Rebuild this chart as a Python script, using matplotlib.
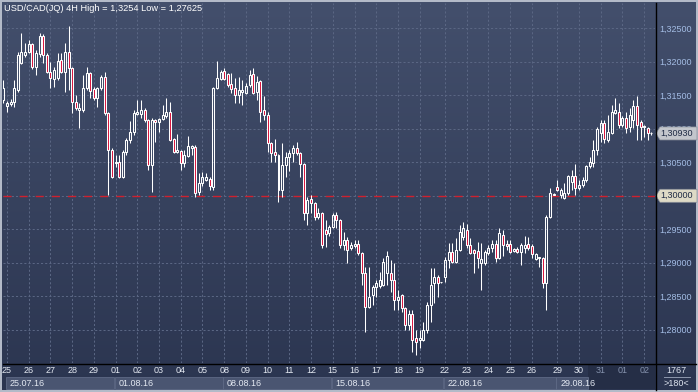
import numpy as np
import matplotlib
matplotlib.use('Agg')
import matplotlib.pyplot as plt
import matplotlib.transforms as mtransforms
from matplotlib.colors import LinearSegmentedColormap
from matplotlib.patches import Rectangle, Polygon
from matplotlib.lines import Line2D
from matplotlib.ticker import FuncFormatter

plt.rcParams['font.family'] = ['Liberation Sans', 'DejaVu Sans']
plt.rcParams['lines.scale_dashes'] = False

# USD/CAD 4H candles, last bar of 22.07.16 up to 02.09.16
opens = [
    1.3143, 1.3134, 1.3137, 1.3140, 1.3158, 1.3198, 1.3210, 1.3215, 1.3227, 1.3192,
    1.3212, 1.3238, 1.3210, 1.3185, 1.3174, 1.3176, 1.3203, 1.3185, 1.3215, 1.3191,
    1.3140, 1.3128, 1.3128, 1.3161, 1.3183, 1.3159, 1.3146, 1.3161, 1.3177, 1.3124,
    1.3068, 1.3049, 1.3050, 1.3028, 1.3065, 1.3083, 1.3095, 1.3122, 1.3122, 1.3128,
    1.3113, 1.3046, 1.3113, 1.3110, 1.3114, 1.3119, 1.3125, 1.3085, 1.3065, 1.3067,
    1.3049, 1.3059, 1.3071, 1.3073, 1.3006, 1.3019, 1.3024, 1.3025, 1.3013, 1.3161,
    1.3174, 1.3186, 1.3182, 1.3167, 1.3161, 1.3150, 1.3155, 1.3153, 1.3165, 1.3182,
    1.3155, 1.3171, 1.3128, 1.3121, 1.3079, 1.3065, 1.3061, 1.3009, 1.3046, 1.3058,
    1.3064, 1.3071, 1.3064, 1.3047, 1.2974, 1.2995, 1.2989, 1.2968, 1.2974, 1.2949,
    1.2944, 1.2953, 1.2971, 1.2964, 1.2927, 1.2934, 1.2922, 1.2925, 1.2928, 1.2914,
    1.2885, 1.2834, 1.2852, 1.2864, 1.2865, 1.2867, 1.2885, 1.2885, 1.2874, 1.2844,
    1.2852, 1.2832, 1.2807, 1.2823, 1.2788, 1.2785, 1.2785, 1.2800, 1.2837, 1.2870,
    1.2879, 1.2871, 1.2879, 1.2904, 1.2916, 1.2901, 1.2919, 1.2938, 1.2949, 1.2927,
    1.2919, 1.2917, 1.2900, 1.2900, 1.2914, 1.2922, 1.2928, 1.2907, 1.2941, 1.2928,
    1.2928, 1.2917, 1.2920, 1.2916, 1.2922, 1.2928, 1.2925, 1.2906, 1.2908, 1.2907,
    1.2870, 1.2968, 1.3001, 1.3013, 1.3001, 1.2997, 1.3004, 1.3021, 1.3030, 1.3012,
    1.3016, 1.3024, 1.3044, 1.3049, 1.3068, 1.3094, 1.3109, 1.3083, 1.3094, 1.3124,
    1.3125, 1.3106, 1.3116, 1.3103, 1.3113, 1.3134, 1.3110, 1.3103, 1.3101, 1.30935,
]
highs = [
    1.3173, 1.3141, 1.3144, 1.3173, 1.3215, 1.3243, 1.3228, 1.3233, 1.3228, 1.3218,
    1.3243, 1.3241, 1.3213, 1.3200, 1.3192, 1.3213, 1.3213, 1.3228, 1.3254, 1.3192,
    1.3150, 1.3138, 1.3180, 1.3192, 1.3185, 1.3162, 1.3162, 1.3180, 1.3185, 1.3125,
    1.3071, 1.3061, 1.3061, 1.3068, 1.3086, 1.3112, 1.3128, 1.3143, 1.3143, 1.3131,
    1.3114, 1.3116, 1.3114, 1.3116, 1.3135, 1.3146, 1.3140, 1.3086, 1.3092, 1.3068,
    1.3068, 1.3089, 1.3076, 1.3076, 1.3034, 1.3035, 1.3034, 1.3028, 1.3163, 1.3201,
    1.3188, 1.3191, 1.3183, 1.3183, 1.3176, 1.3177, 1.3173, 1.3168, 1.3188, 1.3191,
    1.3179, 1.3173, 1.3149, 1.3125, 1.3080, 1.3085, 1.3062, 1.3079, 1.3065, 1.3068,
    1.3076, 1.3080, 1.3065, 1.3049, 1.2998, 1.3001, 1.2991, 1.2982, 1.2976, 1.2964,
    1.2956, 1.2974, 1.2976, 1.2965, 1.2946, 1.2938, 1.2931, 1.2934, 1.2934, 1.2916,
    1.2894, 1.2894, 1.2867, 1.2874, 1.2886, 1.2907, 1.2918, 1.2904, 1.2900, 1.2859,
    1.2853, 1.2834, 1.2830, 1.2830, 1.2800, 1.2800, 1.2812, 1.2842, 1.2892, 1.2892,
    1.2882, 1.2872, 1.2909, 1.2930, 1.2930, 1.2937, 1.2956, 1.2961, 1.2958, 1.2937,
    1.2921, 1.2931, 1.2930, 1.2919, 1.2926, 1.2934, 1.2934, 1.2952, 1.2949, 1.2934,
    1.2934, 1.2922, 1.2923, 1.2930, 1.2940, 1.2938, 1.2928, 1.2915, 1.2909, 1.2909,
    1.2971, 1.3012, 1.3004, 1.3024, 1.3012, 1.3019, 1.3031, 1.3039, 1.3047, 1.3024,
    1.3028, 1.3046, 1.3058, 1.3083, 1.3103, 1.3113, 1.3113, 1.3121, 1.3135, 1.3146,
    1.3138, 1.3119, 1.3125, 1.3131, 1.3143, 1.3149, 1.3113, 1.3106, 1.3103, 1.3095,
]
lows = [
    1.3138, 1.3125, 1.3134, 1.3132, 1.3155, 1.3197, 1.3207, 1.3213, 1.3189, 1.3180,
    1.3207, 1.3198, 1.3183, 1.3161, 1.3162, 1.3173, 1.3183, 1.3155, 1.3158, 1.3124,
    1.3128, 1.3101, 1.3125, 1.3158, 1.3146, 1.3143, 1.3132, 1.3158, 1.3121, 1.3001,
    1.3027, 1.3043, 1.3027, 1.3027, 1.3061, 1.3079, 1.3091, 1.3121, 1.3116, 1.3110,
    1.3039, 1.3006, 1.3080, 1.3095, 1.3113, 1.3116, 1.3082, 1.3064, 1.3064, 1.3039,
    1.3043, 1.3058, 1.3061, 1.2998, 1.3001, 1.3015, 1.3022, 1.3009, 1.3009, 1.3160,
    1.3173, 1.3173, 1.3162, 1.3153, 1.3138, 1.3138, 1.3135, 1.3152, 1.3162, 1.3152,
    1.3143, 1.3110, 1.3113, 1.3065, 1.3050, 1.3050, 1.2991, 1.2998, 1.3028, 1.3037,
    1.3050, 1.3061, 1.3028, 1.2964, 1.2956, 1.2974, 1.2964, 1.2965, 1.2922, 1.2924,
    1.2940, 1.2952, 1.2952, 1.2922, 1.2919, 1.2900, 1.2919, 1.2922, 1.2911, 1.2867,
    1.2797, 1.2833, 1.2837, 1.2849, 1.2862, 1.2865, 1.2867, 1.2856, 1.2830, 1.2830,
    1.2826, 1.2800, 1.2800, 1.2767, 1.27625, 1.2773, 1.2783, 1.2795, 1.2812, 1.2840,
    1.2849, 1.2870, 1.2871, 1.2892, 1.2900, 1.2900, 1.2918, 1.2934, 1.2922, 1.2913,
    1.2885, 1.2892, 1.2859, 1.2897, 1.2911, 1.2916, 1.2901, 1.2906, 1.2910, 1.2919,
    1.2914, 1.2916, 1.2914, 1.2897, 1.2914, 1.2919, 1.2907, 1.2904, 1.2894, 1.2862,
    1.2830, 1.2967, 1.3001, 1.3007, 1.2997, 1.2995, 1.3001, 1.3009, 1.3001, 1.3009,
    1.3013, 1.3021, 1.3041, 1.3043, 1.3061, 1.3080, 1.3079, 1.3080, 1.3092, 1.3122,
    1.3101, 1.3103, 1.3094, 1.3095, 1.3101, 1.3083, 1.3083, 1.3088, 1.3083, 1.3091,
]
closes = [
    1.3161, 1.3138, 1.3140, 1.3161, 1.3210, 1.3215, 1.3215, 1.3227, 1.3192, 1.3213,
    1.3238, 1.3210, 1.3185, 1.3176, 1.3188, 1.3201, 1.3185, 1.3215, 1.3191, 1.3140,
    1.3131, 1.3131, 1.3161, 1.3183, 1.3156, 1.3146, 1.3161, 1.3177, 1.3124, 1.3068,
    1.3028, 1.3050, 1.3028, 1.3065, 1.3083, 1.3095, 1.3124, 1.3125, 1.3128, 1.3113,
    1.3046, 1.3113, 1.3110, 1.3114, 1.3121, 1.3125, 1.3083, 1.3065, 1.3068, 1.3049,
    1.3061, 1.3074, 1.3074, 1.3004, 1.3019, 1.3028, 1.3028, 1.3015, 1.3161, 1.3176,
    1.3185, 1.3174, 1.3165, 1.3159, 1.3150, 1.3158, 1.3158, 1.3164, 1.3180, 1.3153,
    1.3170, 1.3125, 1.3121, 1.3079, 1.3064, 1.3061, 1.3009, 1.3046, 1.3058, 1.3064,
    1.3071, 1.3064, 1.3047, 1.2974, 1.2994, 1.2989, 1.2968, 1.2974, 1.2927, 1.2943,
    1.2953, 1.2971, 1.2964, 1.2927, 1.2934, 1.2919, 1.2927, 1.2928, 1.2914, 1.2885,
    1.2834, 1.2849, 1.2864, 1.2870, 1.2874, 1.2901, 1.2910, 1.2874, 1.2844, 1.2849,
    1.2832, 1.2807, 1.2823, 1.2785, 1.2782, 1.2788, 1.2800, 1.2837, 1.2867, 1.2879,
    1.2870, 1.2871, 1.2904, 1.2916, 1.2901, 1.2919, 1.2946, 1.2952, 1.2927, 1.2914,
    1.2914, 1.2907, 1.2906, 1.2916, 1.2922, 1.2928, 1.2907, 1.2944, 1.2927, 1.2925,
    1.2916, 1.2920, 1.2916, 1.2927, 1.2927, 1.2922, 1.2913, 1.2913, 1.2907, 1.2870,
    1.2968, 1.3004, 1.3003, 1.3009, 1.3009, 1.3004, 1.3030, 1.3030, 1.3012, 1.3016,
    1.3024, 1.3044, 1.3050, 1.3068, 1.3100, 1.3109, 1.3085, 1.3095, 1.3125, 1.3128,
    1.3106, 1.3116, 1.3101, 1.3121, 1.3134, 1.3106, 1.3103, 1.3104, 1.3094, 1.3093,
]

day_labels = ['25', '26', '27', '28', '29', '01', '02', '03', '04', '05',
              '08', '09', '10', '11', '12', '15', '16', '17', '18', '19',
              '22', '23', '24', '25', '26', '29', '30', '31', '01', '02']
day_pos = [1, 7, 13, 19, 25, 31, 37, 43, 49, 55,
           61, 67, 73, 79, 85, 91, 97, 103, 109, 115,
           122, 128, 134, 140, 146, 153, 159, 165, 171, 177]
week_labels = ['25.07.16', '01.08.16', '08.08.16', '15.08.16', '22.08.16', '29.08.16']
week_pos = [1, 31, 61, 91, 122, 153]
price_ticks = [1.280, 1.285, 1.290, 1.295, 1.300, 1.305, 1.310, 1.315, 1.320, 1.325]
last_price = 1.30930
level = 1.30000
title = 'USD/CAD(JQ) 4H High = 1,3254 Low = 1,27625'

W, H = 698, 392
fig = plt.figure(figsize=(W / 100, H / 100), dpi=100, facecolor='#b3bac8')


def fx(px):
    return px / W


def fy(py):
    return 1 - py / H


def fmt(v, _=None):
    return f'{v:.5f}'.replace('.', ',')


def axis_fmt(v, _=None):
    # the level tag shows this price, so the axis leaves it out
    if abs(v - level) < 1e-9:
        return ''
    return fmt(v)


# background gradient behind everything
bg = fig.add_axes([fx(2), 2 / H, 694 / W, 388 / H])
bg.set_zorder(-1)
grad = np.linspace(0, 1, 256).reshape(-1, 1)
cmap = LinearSegmentedColormap.from_list('bg', ['#434f6c', '#2b3550'])
bg.imshow(grad, cmap=cmap, aspect='auto', extent=[0, 1, 0, 1], origin='upper')
bg.axis('off')

ax = fig.add_axes([fx(3), 29 / H, 652 / W, 360 / H])
ax.set_facecolor('none')
ax.set_xlim(-0.1, 180.0)
ax.set_ylim(1.27504, 1.32877)

# candles
o = np.array(opens)
h = np.array(highs)
l = np.array(lows)
c = np.array(closes)
x = np.arange(len(o))
top = np.maximum(o, c)
bot = np.minimum(o, c)
up = c >= o
ax.vlines(x, top, h, color='white', lw=0.75, zorder=3)
ax.vlines(x, l, bot, color='white', lw=0.75, zorder=3)
ax.bar(x[up], (top - bot)[up], bottom=bot[up], width=0.55, facecolor='none',
       edgecolor='white', lw=0.75, zorder=4)
ax.bar(x[~up], (top - bot)[~up], bottom=bot[~up], width=0.55, facecolor='#d8103a',
       edgecolor='white', lw=0.75, zorder=4)

ax.axhline(level, color='#d0202e', lw=1.0, linestyle=(0, (5.8, 5.8)), zorder=2)

# axes, grid
ax.set_xticks(day_pos)
ax.set_xticklabels(day_labels)
ax.set_yticks(price_ticks)
ax.yaxis.tick_right()
ax.yaxis.set_major_formatter(FuncFormatter(axis_fmt))
ax.tick_params(axis='x', length=0, pad=2.2, labelsize=6.5, labelcolor='#e4e9f2')
ax.tick_params(axis='y', length=0, pad=3.0, labelsize=6.5, labelcolor='#a3bce4')
ax.set_axisbelow(True)
ax.grid(True, color='#5a6683', lw=0.75, linestyle=(0, (1.5, 1.5)))
for s in ax.spines.values():
    s.set_visible(False)

# bottom date row
tr = mtransforms.blended_transform_factory(ax.transData, fig.transFigure)
dark_from = 161.5
ax.add_patch(Rectangle((dark_from, fy(389)), 180.0 - dark_from, 25 / H, transform=tr,
                       facecolor='#252e46', edgecolor='none', clip_on=False, zorder=0.2))
for lab, p in zip(ax.get_xticklabels(), day_pos):
    if p > dark_from:
        lab.set_color('#8592ad')
bounds = week_pos + [180.0]
for k, (lab, p) in enumerate(zip(week_labels, week_pos)):
    end = min(bounds[k + 1] - 0.45, dark_from)
    ax.add_patch(Rectangle((p - 0.25, fy(389)), end - (p - 0.25), 12.5 / H, transform=tr,
                           facecolor='#4a5571', edgecolor='#5f6a86', lw=0.6,
                           clip_on=False, zorder=0.2))
    ax.text(p + 0.8, fy(383), lab, transform=tr, ha='left', va='center', fontsize=6.5,
            color='#e4e9f2', clip_on=False, zorder=3)

# frame lines
fig.add_artist(Line2D([fx(3), fx(696)], [fy(363.5)] * 2, color='black', lw=1.0))
fig.add_artist(Line2D([fx(655.5)] * 2, [fy(3), fy(390)], color='black', lw=1.0))

fig.text(fx(4), fy(8.5), title, ha='left', va='center', fontsize=6.7, color='white')

# bottom-right cell
fig.text(fx(676), fy(370.5), '1767', ha='center', va='center', fontsize=6.5, color='#dfe5f0')
fig.text(fx(676), fy(384), '>180<', ha='center', va='center', fontsize=6.5, color='#dfe5f0')
fig.add_artist(Line2D([fx(664), fx(690)], [fy(377)] * 2, color='#8e98ad', lw=0.7))


def price_tag(v, face):
    yd = ax.transData.transform((0, v))[1]
    pts = [(656, yd), (660, yd + 6.5), (697, yd + 6.5), (697, yd - 6.5), (660, yd - 6.5)]
    fig.add_artist(Polygon(pts, closed=True, transform=mtransforms.IdentityTransform(),
                           facecolor=face, edgecolor='#8a8f99', lw=0.5))
    fig.text(677, yd, fmt(v), transform=mtransforms.IdentityTransform(), ha='center',
             va='center', fontsize=6.5, color='#1f2b45')


price_tag(last_price, '#c3c6cc')
price_tag(level, '#dedac6')

fig.savefig('out.png', dpi=100, facecolor=fig.get_facecolor())
